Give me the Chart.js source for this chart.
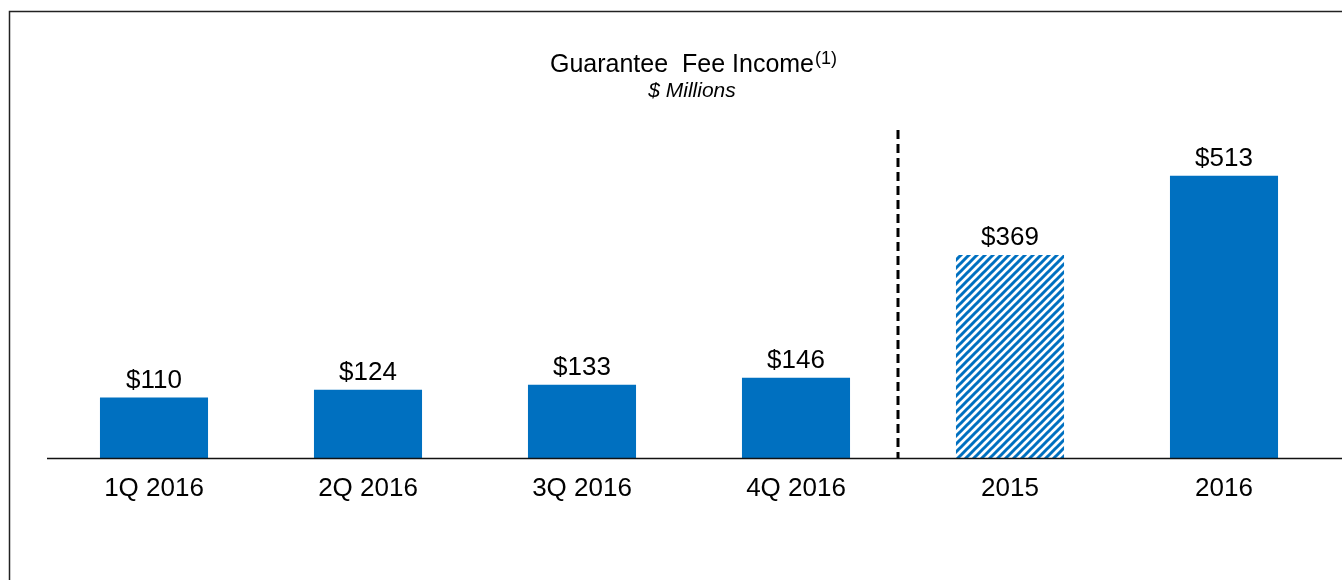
<!DOCTYPE html>
<html>
<head>
<meta charset="utf-8">
<script src="https://cdn.jsdelivr.net/npm/chart.js@4"></script>
<style>
  html, body { margin: 0; padding: 0; background: #fff; }
  #wrap { width: 1342px; height: 580px; position: relative; }
</style>
</head>
<body>
<div id="wrap"><canvas id="gfi-chart"></canvas></div>
<script>
// Guarantee fee income, $ millions
const CATEGORIAS = ['1Q 2016', '2Q 2016', '3Q 2016', '4Q 2016', '2015', '2016'];
const VALORES = [110, 124, 133, 146, 369, 513];
const HACHURADO = [false, false, false, false, true, false]; // 2015 bar is striped
const TITULO = 'Guarantee  Fee Income';
const SOBRESCRITO = '(1)';
const SUBTITULO = '$ Millions';

const AZUL = '#0070C0';
const FONTE = '"Liberation Sans", Arial, sans-serif';

// padrão listrado diagonal para a barra de 2015
function criarHachura(ctx) {
  const c = document.createElement('canvas');
  c.width = 8; c.height = 8;
  const p = c.getContext('2d');
  p.fillStyle = '#fff';
  p.fillRect(0, 0, 8, 8);
  p.strokeStyle = AZUL;
  p.lineWidth = 3;
  p.beginPath();
  p.moveTo(-2, 10); p.lineTo(10, -2);
  p.moveTo(-2, 2); p.lineTo(2, -2);
  p.moveTo(6, 10); p.lineTo(10, 6);
  p.stroke();
  return ctx.createPattern(c, 'repeat');
}

const ctx = document.getElementById('gfi-chart').getContext('2d');
const hachura = criarHachura(ctx);

// moldura, título, linha tracejada e rótulos de valor
const decoracao = {
  id: 'decoracao',
  beforeDraw(chart) {
    const c = chart.ctx;
    c.save();
    c.strokeStyle = '#222';
    c.lineWidth = 1.5;
    c.beginPath();
    c.moveTo(9.5, 580); c.lineTo(9.5, 11.5); c.lineTo(1342, 11.5);
    c.stroke();
    c.restore();
  },
  afterDatasetsDraw(chart) {
    const c = chart.ctx;
    const area = chart.chartArea;
    const x = chart.scales.x;

    // baseline
    c.save();
    c.strokeStyle = '#111';
    c.lineWidth = 1.5;
    c.beginPath();
    c.moveTo(area.left, area.bottom + 0.5);
    c.lineTo(chart.width, area.bottom + 0.5);
    c.stroke();

    // separador tracejado entre trimestres e anos
    const xs = (x.getPixelForValue(3) + x.getPixelForValue(4)) / 2 - 5;
    c.strokeStyle = '#000';
    c.lineWidth = 3;
    c.setLineDash([9, 5]);
    c.beginPath();
    c.moveTo(xs, area.top + 2);
    c.lineTo(xs, area.bottom);
    c.stroke();
    c.setLineDash([]);

    // rótulos
    c.fillStyle = '#000';
    c.font = '26px ' + FONTE;
    c.textAlign = 'center';
    c.textBaseline = 'alphabetic';
    chart.getDatasetMeta(0).data.forEach((bar, i) => {
      c.fillText('$' + VALORES[i], bar.x, bar.y - 10);
    });

    // título com sobrescrito
    c.font = '25px ' + FONTE;
    const wT = c.measureText(TITULO).width;
    c.font = '18px ' + FONTE;
    const wS = c.measureText(SOBRESCRITO).width;
    const cx = 693;
    const x0 = cx - (wT + wS) / 2;
    c.textAlign = 'left';
    c.font = '25px ' + FONTE;
    c.fillText(TITULO, x0, 72);
    c.font = '18px ' + FONTE;
    c.fillText(SOBRESCRITO, x0 + wT + 1, 64);

    c.textAlign = 'center';
    c.font = 'italic 21px ' + FONTE;
    c.fillText(SUBTITULO, 692, 97);
    c.restore();
  }
};

new Chart(ctx, {
  type: 'bar',
  data: {
    labels: CATEGORIAS,
    datasets: [{
      data: VALORES,
      backgroundColor: HACHURADO.map(h => h ? hachura : AZUL),
      borderWidth: 0,
      barPercentage: 0.505,
      categoryPercentage: 1
    }]
  },
  options: {
    responsive: true,
    maintainAspectRatio: false,
    animation: false,
    layout: { padding: { left: 47, right: 11, top: 128, bottom: 72 } },
    plugins: {
      legend: { display: false },
      tooltip: { enabled: false }
    },
    scales: {
      y: {
        display: false,
        min: 0,
        max: 600
      },
      x: {
        grid: { display: false, drawTicks: false },
        border: { display: false },
        ticks: {
          color: '#000',
          padding: 15,
          font: { family: FONTE, size: 26 }
        },
        afterFit(s) { s.height = 50; }
      }
    }
  },
  plugins: [decoracao]
});
</script>
</body>
</html>
